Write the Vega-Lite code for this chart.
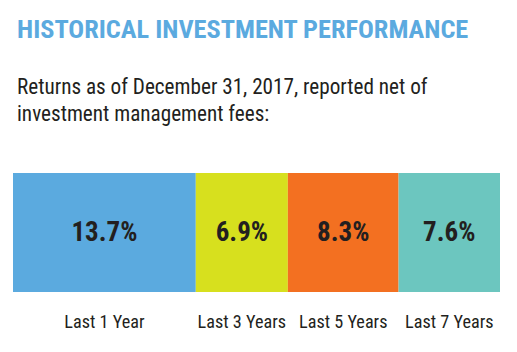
{
  "$schema": "https://vega.github.io/schema/vega-lite/v6.json",
  "width": 487,
  "height": 119,
  "autosize": "none",
  "padding": {"left": 13, "top": 173, "right": 17, "bottom": 60},
  "background": "white",
  "title": {
    "text": "HISTORICAL INVESTMENT PERFORMANCE",
    "subtitle": ["Returns as of December 31, 2017, reported net of", "investment management fees:"],
    "anchor": "start",
    "frame": "group",
    "dx": 4,
    "font": "Roboto Condensed",
    "fontSize": 26.3,
    "fontWeight": "bold",
    "color": "#5BAADF",
    "subtitleFont": "Roboto Condensed",
    "subtitleFontSize": 21.2,
    "subtitleColor": "#231F20",
    "subtitleLineHeight": 26.7,
    "subtitlePadding": 34,
    "offset": 48
  },
  "data": {
    "values": [
      {"period": "Last 1 Year", "ret": 13.7, "label": "13.7%", "order": 1},
      {"period": "Last 3 Years", "ret": 6.9, "label": "6.9%", "order": 2},
      {"period": "Last 5 Years", "ret": 8.3, "label": "8.3%", "order": 3},
      {"period": "Last 7 Years", "ret": 7.6, "label": "7.6%", "order": 4}
    ]
  },
  "transform": [
    {"stack": "ret", "groupby": [], "sort": [{"field": "order"}], "as": ["s0", "s1"]},
    {"calculate": "(datum.s0 + datum.s1) / 2", "as": "mid"}
  ],
  "config": {"view": {"stroke": null}},
  "layer": [
    {
      "mark": {"type": "bar"},
      "encoding": {
        "x": {"field": "s0", "type": "quantitative", "scale": {"domain": [0, 36.5], "nice": false, "zero": true}, "axis": null},
        "x2": {"field": "s1"},
        "y": {"value": 0},
        "y2": {"value": "height"},
        "color": {
          "field": "period",
          "type": "nominal",
          "scale": {"domain": ["Last 1 Year", "Last 3 Years", "Last 5 Years", "Last 7 Years"], "range": ["#5BAADF", "#D7E01E", "#F37021", "#6CC6BF"]},
          "legend": null
        }
      }
    },
    {
      "mark": {"type": "text", "font": "Roboto Condensed", "fontWeight": "bold", "fontSize": 27, "color": "#231F20", "baseline": "middle", "align": "center"},
      "encoding": {
        "x": {"field": "mid", "type": "quantitative"},
        "text": {"field": "label"}
      }
    },
    {
      "mark": {"type": "text", "font": "Roboto Condensed", "fontSize": 18.2, "color": "#231F20", "baseline": "middle", "align": "center", "dy": 90},
      "encoding": {
        "x": {"field": "mid", "type": "quantitative"},
        "text": {"field": "period"}
      }
    }
  ]
}
